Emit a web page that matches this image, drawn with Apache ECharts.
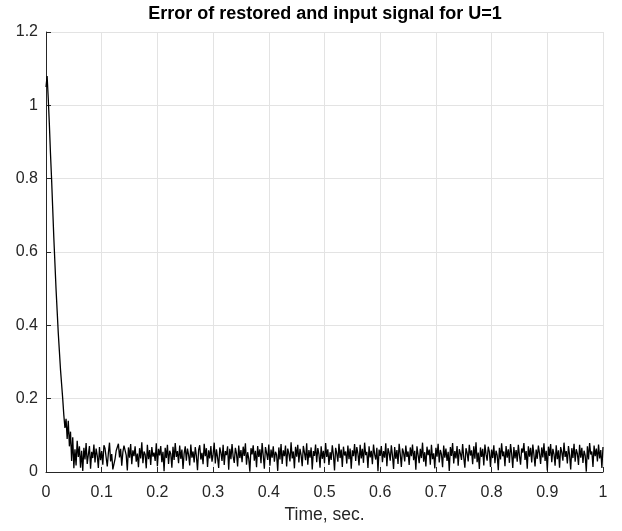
<!DOCTYPE html>
<html>
<head>
<meta charset="utf-8">
<script src="https://cdn.jsdelivr.net/npm/echarts@6/dist/echarts.min.js"></script>
<style>html,body{margin:0;padding:0;background:#fff;}#c{width:622px;height:531px;}</style>
</head>
<body>
<div id="c"></div>
<script>
const titleText = 'Error of restored and input signal for U=1';
const xName = 'Time, sec.';
const xTicks = [0, 0.1, 0.2, 0.3, 0.4, 0.5, 0.6, 0.7, 0.8, 0.9, 1];
const yTicks = [0, 0.2, 0.4, 0.6, 0.8, 1, 1.2];
const dt = 0.002; // sample spacing, sec
// initial decay (t = 0 ... 0.050)
const decay = [1.05,1.08,1.02,0.95,0.87,0.80,0.72,0.64,0.57,0.50,0.44,0.38,0.33,0.28,0.24,0.20,0.155,0.12,0.145,0.09,0.14,0.07,0.11,0.03,0.095,0.01];
// steady-state noisy error (t = 0.052 ... 1.000)
const noise = [
.062,.018,.085,.041,.070,.012,.058,.003,.066,.034,.079,.022,.047,.071,.009,.055,.038,.075,.026,.064,.045,.011,.068,.032,.057,
.020,.073,.064,.061,.015,.052,.080,.029,.049,.007,.012,.036,.058,.055,.077,.040,.063,.017,.054,.072,.068,.046,.004,.067,.039,
.076,.021,.059,.043,.070,.028,.050,.013,.065,.037,.081,.024,.056,.048,.010,.074,.035,.060,.019,.068,.042,.053,.030,.078,.016,
.063,.045,.071,.027,.055,.002,.066,.038,.074,.022,.058,.049,.012,.069,.033,.079,.041,.057,.024,.072,.036,.061,.008,.051,.070,
.031,.064,.047,.018,.075,.039,.056,.026,.068,.044,.005,.060,.073,.034,.052,.021,.077,.043,.065,.014,.059,.037,.071,.028,.048,
.080,.023,.062,.040,.011,.067,.053,.030,.074,.019,.057,.046,.070,.006,.063,.035,.076,.042,.025,.066,.050,.015,.072,.038,.060,
.027,.069,.044,.078,.020,.054,.036,.001,.065,.048,.073,.031,.058,.013,.071,.041,.062,.024,.079,.045,.009,.068,.052,.033,.075,
.017,.061,.039,.070,.028,.055,.047,.003,.067,.034,.076,.022,.059,.043,.072,.015,.064,.050,.029,.081,.037,.056,.010,.069,.042,
.074,.026,.063,.046,.016,.071,.053,.032,.078,.020,.060,.039,.067,.007,.057,.044,.075,.027,.065,.049,.012,.070,.036,.058,.024,
.079,.041,.062,.019,.054,.033,.073,.047,.004,.066,.051,.028,.077,.038,.061,.014,.069,.045,.056,.023,.072,.035,.064,.009,.059,
.043,.076,.030,.068,.050,.018,.074,.037,.063,.025,.080,.046,.055,.011,.070,.040,.058,.021,.075,.048,.034,.066,.002,.061,.044,
.071,.027,.057,.039,.078,.016,.065,.052,.031,.073,.045,.008,.068,.036,.060,.022,.077,.049,.014,.064,.053,.029,.072,.041,.056,
.019,.067,.043,.075,.032,.058,.006,.070,.047,.024,.063,.038,.080,.028,.054,.015,.069,.046,.061,.020,.074,.035,.051,.010,.066,
.042,.077,.026,.060,.048,.013,.072,.039,.064,.030,.055,.003,.068,.044,.079,.023,.057,.037,.071,.017,.062,.050,.033,.076,.040,
.012,.065,.052,.029,.074,.045,.059,.021,.070,.036,.081,.027,.053,.008,.067,.041,.063,.018,.075,.048,.031,.069,.055,.014,.061,
.038,.073,.024,.058,.046,.005,.066,.034,.078,.043,.056,.016,.071,.039,.062,.025,.076,.050,.011,.068,.037,.060,.028,.074,.045,
.020,.064,.053,.079,.033,.057,.009,.070,.042,.066,.026,.075,.047,.015,.061,.036,.072,.051,.022,.067,.040,.078,.030,.058,.004,
.069,.044,.076,.027,.063,.049,.017,.073,.035,.059,.012,.068,.054,.031,.080,.041,.057,.023,.071,.046,.007,.065,.038,.077,.028,
.062,.050,.019,.074,.039,.066,.025,.058,.045,.001,.070,.034,.079,.048,.056,.014,.072,.043,.064,.029,.075,.037,.060,.011,.068
];
const values = decay.concat(noise);
const seriesData = values.map((v, i) => [+(i * dt).toFixed(3), v]);

const FONT = '"Liberation Sans", Arial, Helvetica, sans-serif';
const TXT = '#262626';
const GRID = '#e3e3e3';

const chart = echarts.init(document.getElementById('c'), null, {renderer: 'canvas'});
chart.setOption({
  animation: false,
  backgroundColor: '#ffffff',
  title: {
    text: titleText,
    left: 320, top: 0, textAlign: 'center',
    textStyle: {fontFamily: FONT, fontSize: 18, fontWeight: 'bold', color: '#000'}
  },
  grid: {left: 46, right: 19, top: 32, bottom: 59, containLabel: false},
  xAxis: {
    type: 'value', min: xTicks[0], max: xTicks[xTicks.length - 1], interval: 0.1,
    name: xName, nameLocation: 'middle', nameGap: 34,
    nameTextStyle: {fontFamily: FONT, fontSize: 17.5, color: TXT},
    axisLine: {show: true, onZero: false, lineStyle: {color: TXT, width: 1}},
    axisTick: {show: true, inside: true, length: 5, lineStyle: {color: TXT}},
    axisLabel: {fontFamily: FONT, fontSize: 16, color: TXT, margin: 13,
      formatter: v => String(+v.toFixed(1))},
    splitLine: {show: true, lineStyle: {color: GRID, width: 1}}
  },
  yAxis: {
    type: 'value', min: yTicks[0], max: yTicks[yTicks.length - 1], interval: 0.2,
    axisLine: {show: true, onZero: false, lineStyle: {color: TXT, width: 1}},
    axisTick: {show: true, inside: true, length: 5, lineStyle: {color: TXT}},
    axisLabel: {fontFamily: FONT, fontSize: 16, color: TXT, margin: 8,
      formatter: v => String(+v.toFixed(1))},
    splitLine: {show: true, lineStyle: {color: GRID, width: 1}}
  },
  series: [{
    type: 'line', data: seriesData, showSymbol: false, symbol: 'none',
    lineStyle: {color: '#000', width: 1.3}, silent: true
  }]
});
</script>
</body>
</html>
